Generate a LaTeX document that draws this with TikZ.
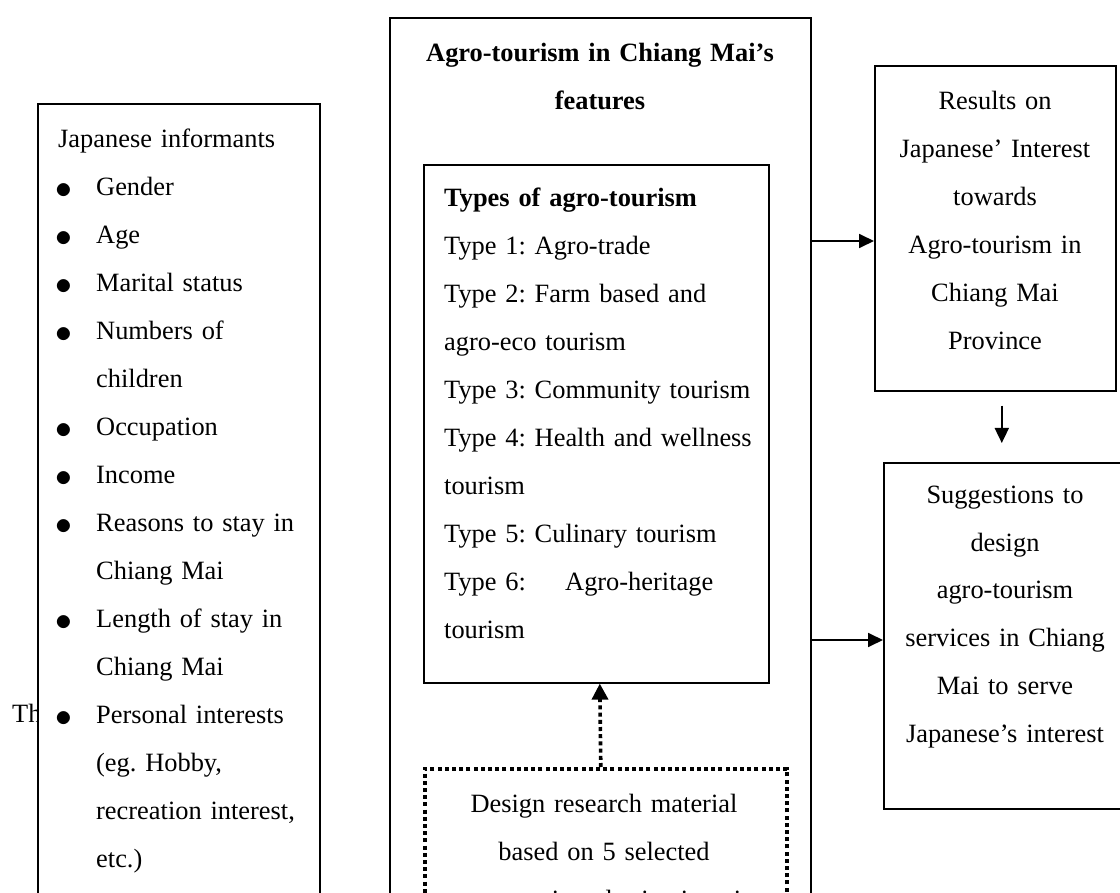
\documentclass[tikz,border=0pt]{standalone}
\usepackage{fontspec}
\setmainfont{Liberation Serif}
\usetikzlibrary{arrows.meta,positioning}
\newcommand{\bul}{\makebox[38pt][l]{\hspace*{-3pt}\raisebox{-2.2pt}{\scalebox{1.35}{$\bullet$}}}}
\newcommand{\ind}{\hspace*{38pt}}
\frenchspacing
\begin{document}
\begin{tikzpicture}[x=1pt,y=-1pt,
 every node/.style={font=\fontsize{26.4}{48}\selectfont\frenchspacing,inner sep=0pt},
 box/.style={draw,line width=1.6pt,anchor=north west},
 dotbox/.style={draw,line width=3.6pt,dash pattern=on 4pt off 3.2pt,anchor=north west},
 txt/.style={anchor=base west,align=left},
 ctxt/.style={anchor=base,align=center},
 arr/.style={-{Triangle[length=15pt,width=14pt]},line width=1.8pt},
 dotarr/.style={-{Triangle[length=16pt,width=16pt]},line width=3.6pt,dash pattern=on 4pt off 3.2pt}]
 \useasboundingbox (0,0) rectangle (1120,893);
 \clip (0,0) rectangle (1120,893);
 \node[anchor=base west] (hidden) at (12,722) {The};
 % informants
 \node[box,fill=white,minimum width=282pt,minimum height=830pt] (info) at (37,103) {};
 \node[txt,text width=260pt] (infotxt) at (58,148) {Japanese informants\\
  \bul Gender\\ \bul Age\\ \bul Marital status\\ \bul Numbers of\\ \ind children\\
  \bul Occupation\\ \bul Income\\ \bul Reasons to stay in\\ \ind Chiang Mai\\
  \bul Length of stay in\\ \ind Chiang Mai\\ \bul Personal interests\\
  \ind (eg. Hobby,\\ \ind recreation interest,\\ \ind etc.)};
 % features
 \node[box,minimum width=421pt,minimum height=900pt] (feat) at (389,17) {};
 \node[ctxt,text width=400pt] (feattxt) at (600,62) {\bfseries Agro-tourism in Chiang Mai’s\\\bfseries features};
 \node[box,minimum width=345pt,minimum height=518pt] (types) at (423,164) {};
 \node[txt,text width=330pt] (typestxt) at (444,207) {\textbf{Types of agro-tourism}\\
  Type 1: Agro-trade\\ Type 2: Farm based and\\ agro-eco tourism\\
  Type 3: Community tourism\\ Type 4: Health and wellness\\ tourism\\
  Type 5: Culinary tourism\\ \makebox[121pt][l]{Type 6:}Agro-heritage\\ tourism};
 \node[dotbox,minimum width=362pt,minimum height=200pt] (design) at (423,767) {};
 \node[ctxt,text width=350pt] (designtxt) at (604,812) {Design research material\\
  based on 5 selected\\ agro-tourism destinations in};
 % results
 \node[box,minimum width=241pt,minimum height=325pt] (res) at (874,65) {};
 \node[ctxt,text width=240pt] (restxt) at (995,110) {Results on\\Japanese’ Interest\\
  towards\\Agro-tourism in\\Chiang Mai\\Province};
 \node[box,minimum width=250pt,minimum height=346pt] (sug) at (883,462) {};
 \node[ctxt,text width=240pt] (sugtxt) at (1005,503) {Suggestions to\\design\\
  agro-tourism\\services in Chiang\\Mai to serve\\Japanese’s interest};
 % arrows
 \coordinate (r1) at (810,241);
 \coordinate (r2) at (810,640);
 \draw[arr] (r1) -- (r1 -| res.west);
 \draw[arr] (r2) -- (r2 -| sug.west);
 \draw[arr] ([shift={(6.5,14)}]res.south) -- ([shift={(-7,-19)}]sug.north);
 \draw[dotarr] ([xshift=-5pt]design.north) -- ([xshift=3.5pt]types.south);
\end{tikzpicture}
\end{document}
